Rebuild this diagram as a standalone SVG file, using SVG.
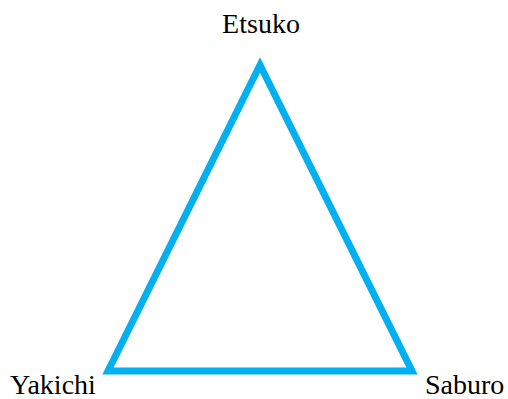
<svg xmlns="http://www.w3.org/2000/svg" width="508" height="399" viewBox="0 0 508 399">
<style>
text{font-family:'Liberation Serif','Times New Roman',Times,serif;font-size:28px;fill:#000}
.edge{fill:none;stroke:#00b0f0;stroke-width:7;stroke-linejoin:miter}
</style>
<rect width="508" height="399" fill="#fff"/>
<g id="connectors">
<polygon class="edge" points="260,65 108,371 412,371"/>
</g>
<g id="etsuko"><text x="261" y="33" text-anchor="middle" font-family="Liberation Serif, serif">Etsuko</text></g>
<g id="yakichi"><text x="10" y="394" font-family="Liberation Serif, serif">Yakichi</text></g>
<g id="saburo"><text x="425" y="394" font-family="Liberation Serif, serif">Saburo</text></g>
</svg>
